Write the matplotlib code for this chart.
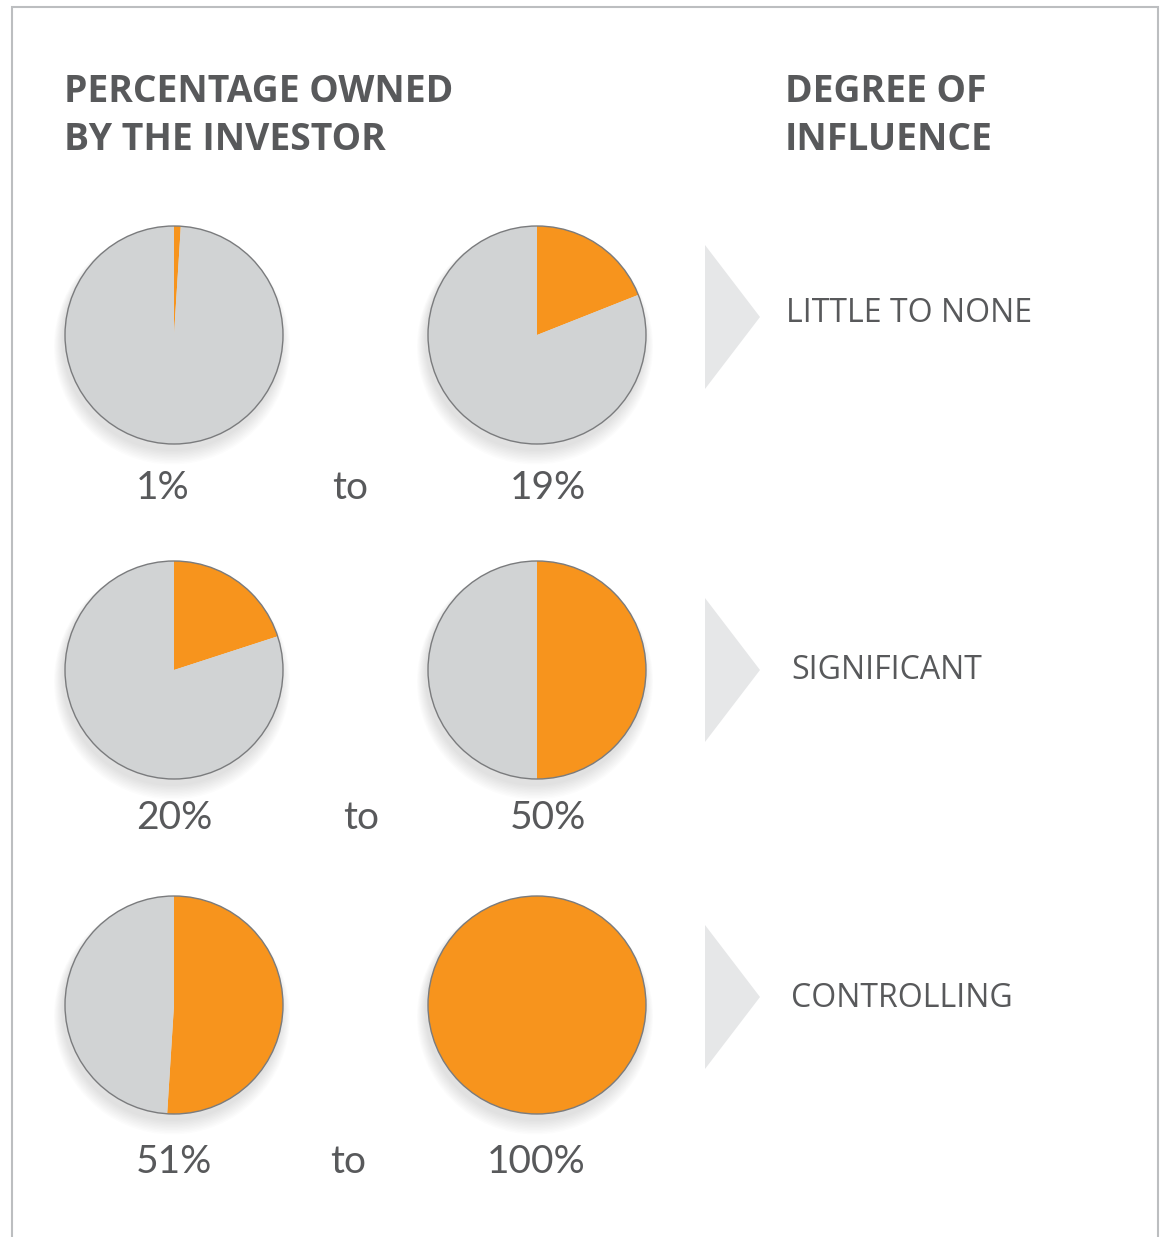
import numpy as np
import matplotlib.pyplot as plt
from matplotlib.patches import Circle, Polygon, Rectangle

# data
low_pct = [1, 20, 51]
high_pct = [19, 50, 100]
low_labels = ["1%", "20%", "51%"]
high_labels = ["19%", "50%", "100%"]
influence = ["LITTLE TO NONE", "SIGNIFICANT", "CONTROLLING"]

ORANGE = "#f7941d"
GRAY = "#d1d3d4"
EDGE = "#7a7b7d"
TEXT = "#58595b"
ARROW = "#e6e7e8"

W, H = 1163, 1237
fig = plt.figure(figsize=(W / 100, H / 100), dpi=100)
ax = fig.add_axes([0, 0, 1, 1])

def Y(y):
    return H - y

def draw_pie(cx, cy, pct, r=109):
    # soft shadow
    for k in range(10):
        ax.add_patch(Circle((cx - 2, Y(cy) - 6 - k * 0.6), r + 1 + k * 0.9,
                            color="black", alpha=0.012, lw=0, zorder=1))
    ax.pie([pct, 100 - pct], colors=[ORANGE, GRAY], startangle=90,
           counterclock=False, center=(cx, Y(cy)), radius=r, frame=True,
           wedgeprops=dict(linewidth=0, zorder=2))
    ax.add_patch(Circle((cx, Y(cy)), r, fill=False, ec=EDGE, lw=1.0, zorder=3))

row_y = [335, 670, 1005]
lbl_base = [499, 829, 1173]
to_x = [350, 361, 348]
arrow_tip = [317, 670, 997]
infl_x = [786, 791, 791]
infl_base = [322, 679, 1007]

num_font = dict(fontsize=28, color=TEXT, family="Lato", weight="normal")
for i in range(3):
    draw_pie(174, row_y[i], low_pct[i])
    draw_pie(537, row_y[i], high_pct[i])
    ax.text(136, Y(lbl_base[i]), low_labels[i], ha="left", va="baseline", **num_font)
    ax.text(586, Y(lbl_base[i]), high_labels[i], ha="right", va="baseline", **num_font)
    ax.text(to_x[i], Y(lbl_base[i]), "to", ha="center", va="baseline", **num_font)
    t = arrow_tip[i]
    ax.add_patch(Polygon([(705, Y(t - 72)), (760, Y(t)), (705, Y(t + 72))],
                         closed=True, color=ARROW, lw=0))
    ax.text(infl_x[i], Y(infl_base[i]), influence[i], ha="left", va="baseline",
            fontsize=23, color=TEXT, family="Open Sans", weight="normal")

title_font = dict(fontsize=26.8, color=TEXT, family="Open Sans", weight="bold")
ax.text(64, Y(102), "PERCENTAGE OWNED", ha="left", va="baseline", **title_font)
ax.text(64, Y(150), "BY THE INVESTOR", ha="left", va="baseline", **title_font)
ax.text(785, Y(102), "DEGREE OF", ha="left", va="baseline", **title_font)
ax.text(785, Y(150), "INFLUENCE", ha="left", va="baseline", **title_font)

# frame
ax.add_patch(Rectangle((12, Y(1260)), 1146, 1253, fill=False,
                       ec="#bcbec0", lw=1.5, zorder=5))

ax.set_xlim(0, W)
ax.set_ylim(0, H)
ax.set_aspect("auto")
ax.axis("off")
fig.savefig("out.png", dpi=100)
